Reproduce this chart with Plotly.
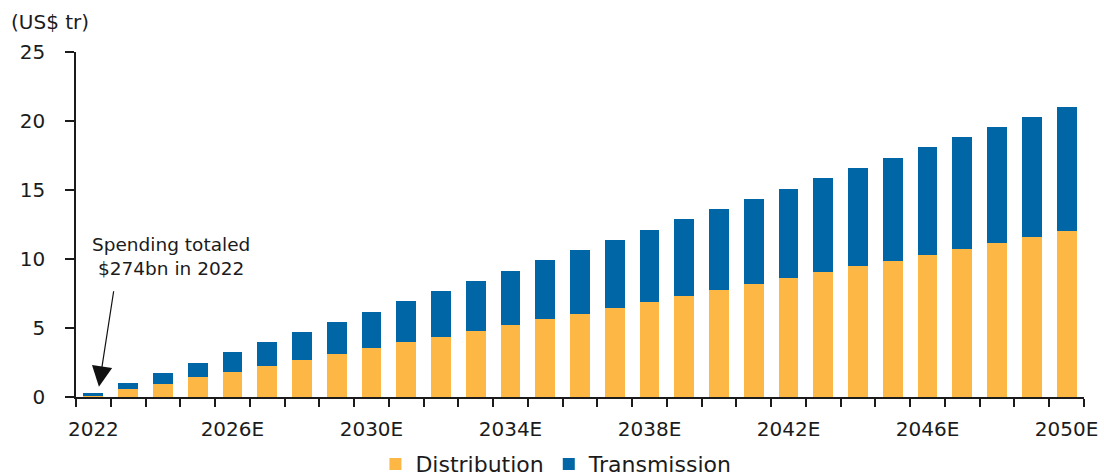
import plotly.graph_objects as go

# Cumulative grid spending, US$ trillion
years = list(range(2022, 2051))
distribution = [0.14, 0.58, 0.96, 1.42, 1.81, 2.24, 2.70, 3.11, 3.52, 3.95,
                4.36, 4.80, 5.21, 5.64, 6.05, 6.48, 6.92, 7.33, 7.76, 8.18,
                8.63, 9.04, 9.48, 9.88, 10.32, 10.75, 11.19, 11.60, 12.06]
transmission = [0.134, 0.43, 0.78, 1.06, 1.45, 1.74, 2.02, 2.34, 2.67, 3.00,
                3.33, 3.64, 3.95, 4.27, 4.61, 4.92, 5.21, 5.55, 5.84, 6.17,
                6.46, 6.81, 7.09, 7.44, 7.77, 8.09, 8.37, 8.68, 8.97]
label_years = [2022, 2026, 2030, 2034, 2038, 2042, 2046, 2050]
label_text = ["2022", "2026E", "2030E", "2034E", "2038E", "2042E", "2046E", "2050E"]

ORANGE = "#FDB744"
BLUE = "#0166A6"
INK = "#1b1b1b"
FONT = "DejaVu Sans"

fig = go.Figure()
fig.add_trace(go.Bar(x=years, y=distribution, name="Distribution",
                     marker=dict(color=ORANGE, line=dict(width=0))))
fig.add_trace(go.Bar(x=years, y=transmission, name="Transmission",
                     marker=dict(color=BLUE, line=dict(width=0))))

boundaries = [y - 0.5 for y in years] + [years[-1] + 0.5]

fig.update_layout(
    width=1104, height=476,
    margin=dict(l=76, r=20, t=52, b=79, autoexpand=False),
    barmode="stack", bargap=0.43,
    plot_bgcolor="white", paper_bgcolor="white",
    font=dict(family=FONT, size=20, color=INK),
    showlegend=True,
    legend=dict(orientation="h", xref="container", yref="container",
                x=0.504, xanchor="center", y=0.025, yanchor="middle",
                font=dict(size=22, color=INK), traceorder="normal",
                itemwidth=30, itemsizing="constant"),
    xaxis=dict(range=[2021.5, 2050.5], tickmode="array", tickvals=label_years,
               ticktext=label_text, showline=True, linecolor=INK, linewidth=1.5,
               ticks="outside", ticklen=8, tickcolor="rgba(0,0,0,0)",
               ticklabelstandoff=5, showgrid=False, zeroline=False,
               minor=dict(tickmode="array", tickvals=boundaries, ticks="outside",
                          ticklen=8, tickcolor=INK, tickwidth=1.5, showgrid=False)),
    yaxis=dict(range=[0, 25], tickvals=[0, 5, 10, 15, 20, 25], showline=True,
               linecolor=INK, linewidth=1.5, ticks="outside", ticklen=9,
               tickcolor=INK, tickwidth=1.5, ticklabelstandoff=16,
               showgrid=False, zeroline=False),
)

fig.add_annotation(text="(US$ tr)", xref="paper", yref="paper", x=-0.0665, y=1.088,
                   xanchor="left", yanchor="middle", showarrow=False,
                   font=dict(size=20, color=INK, family=FONT))

fig.add_annotation(text="Spending totaled<br>$274bn in 2022", xref="x", yref="y",
                   x=2024.23, y=10.2, showarrow=False, xanchor="center", yanchor="middle",
                   font=dict(size=18.5, color=INK, family=FONT))

fig.add_annotation(x=2022.16, y=0.75, ax=2022.59, ay=7.77, xref="x", yref="y",
                   axref="x", ayref="y", text="", showarrow=True, arrowhead=2,
                   arrowsize=3.4, arrowwidth=1.2, arrowcolor="#111111")

fig.write_html("out.html")
